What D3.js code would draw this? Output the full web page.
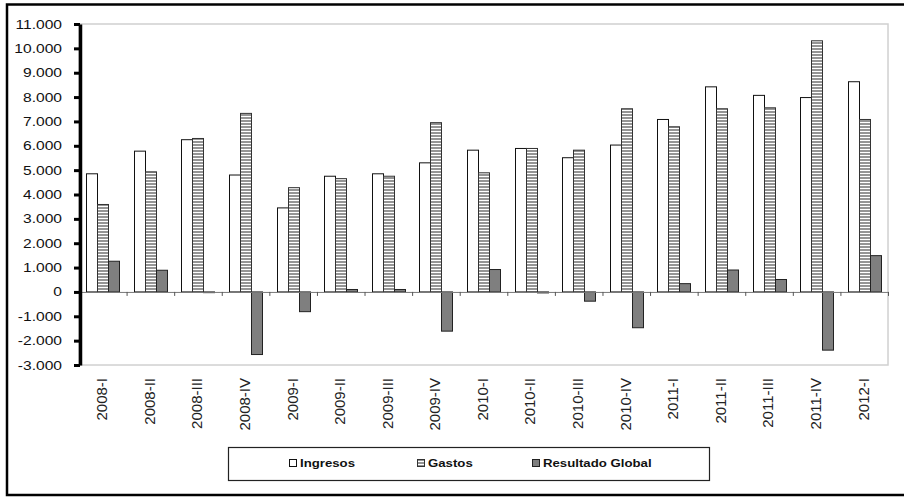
<!DOCTYPE html>
<html>
<head>
<meta charset="utf-8">
<script src="https://cdn.jsdelivr.net/npm/d3@7"></script>
<style>
  html, body { margin: 0; padding: 0; background: #fff; }
  svg { display: block; }
  text { font-family: "Liberation Sans", Arial, sans-serif; }
</style>
</head>
<body>
<svg id="chart" width="904" height="497"></svg>
<script>
const categories = ["2008-I","2008-II","2008-III","2008-IV","2009-I","2009-II","2009-III","2009-IV",
  "2010-I","2010-II","2010-III","2010-IV","2011-I","2011-II","2011-III","2011-IV","2012-I"];
const seriesNames = ["Ingresos","Gastos","Resultado Global"];
const ingresos  = [4850,5780,6250,4800,3450,4750,4850,5300,5820,5890,5510,6030,7080,8420,8070,7980,8630];
const gastos    = [3590,4930,6300,7330,4280,4650,4750,6950,4890,5890,5820,7520,6780,7520,7560,10310,7080];
const resultado = [1260,890,-30,-2570,-810,100,100,-1610,920,-40,-380,-1470,340,900,510,-2390,1490];
const yTicks = [-3000,-2000,-1000,0,1000,2000,3000,4000,5000,6000,7000,8000,9000,10000,11000];
const yTickLabels = ["-3.000","-2.000","-1.000","0","1.000","2.000","3.000","4.000","5.000","6.000","7.000","8.000","9.000","10.000","11.000"];

const svg = d3.select("#chart");
const L = 79, R = 888, T = 24, B = 365;

// pattern for Gastos
const defs = svg.append("defs");
const pat = defs.append("pattern").attr("id","stripes").attr("patternUnits","userSpaceOnUse")
  .attr("width",4).attr("height",3);
pat.append("rect").attr("width",4).attr("height",3).attr("fill","#ffffff");
pat.append("rect").attr("width",4).attr("height",2).attr("fill","#959595");

// outer frame
svg.append("rect").attr("x",7).attr("y",4.5).attr("width",1000).attr("height",490.5)
  .attr("fill","none").attr("stroke","#000").attr("stroke-width",2.5);

const x = d3.scaleBand().domain(categories).range([L, R]).padding(0);
const xi = d3.scaleBand().domain(seriesNames).range([0, x.bandwidth()]).paddingInner(0).paddingOuter(0.665);
const y = d3.scaleLinear().domain([-3000, 11000]).range([B, T]);

// plot area border
svg.append("rect").attr("x",L).attr("y",T).attr("width",R-L).attr("height",B-T)
  .attr("fill","none").attr("stroke","#d0d0d0").attr("stroke-width",1.5);

const data = categories.map((c,i)=>({cat:c, vals:[ingresos[i], gastos[i], resultado[i]]}));
const fills = ["#ffffff","url(#stripes)","#7f7f7f"];
const strokes = ["#111","#333","#222"];

const g = svg.append("g");
data.forEach(d => {
  d.vals.forEach((v,k) => {
    const s = seriesNames[k];
    const x0 = Math.round(x(d.cat) + xi(s)) + 0.5;
    const w = Math.round(xi.bandwidth());
    const y0 = y(Math.max(0,v)), y1 = y(Math.min(0,v));
    g.append("rect").attr("x",x0).attr("y",y0).attr("width",w).attr("height",Math.max(0.5,y1-y0))
      .attr("fill",fills[k]).attr("stroke",strokes[k]).attr("stroke-width",1);
  });
});

// zero axis with ticks
const xAxis = d3.axisBottom(x).tickSize(4).tickFormat("").tickSizeOuter(0);
const xg = svg.append("g").attr("transform",`translate(0,${y(0)})`);
xg.call(d3.axisBottom(d3.scaleLinear().domain([0,categories.length]).range([L,R]))
  .ticks(categories.length).tickValues(d3.range(categories.length+1)).tickSize(4).tickFormat("").tickSizeOuter(0));
xg.select(".domain").attr("stroke","#777").attr("stroke-width",1);
xg.selectAll(".tick line").attr("stroke","#555");

// x labels
svg.append("g").selectAll("text").data(categories).join("text")
  .attr("transform", d => `translate(${x(d)+x.bandwidth()/2 - 1},378) rotate(-90)`)
  .attr("text-anchor","end").attr("dy","0.36em")
  .attr("font-size",15).attr("fill","#222").text(d=>d);

// y axis
const yg = svg.append("g").attr("transform",`translate(${L+1},0)`);
yg.call(d3.axisLeft(y).tickValues(yTicks).tickSize(6).tickSizeOuter(0).tickFormat(""));
yg.select(".domain").attr("stroke","#000").attr("stroke-width",3.5);
yg.selectAll(".tick line").attr("stroke","#000").attr("stroke-width",3);

svg.append("g").selectAll("text").data(yTicks).join("text")
  .attr("transform",(d)=>`translate(62,${y(d)}) scale(1.25,1)`)
  .attr("text-anchor","end").attr("dy","0.36em").attr("font-size",12.5).attr("fill","#111")
  .text((d,i)=>yTickLabels[i]);

// legend
const lg = svg.append("g");
lg.append("rect").attr("x",228.5).attr("y",447.5).attr("width",481).attr("height",33)
  .attr("fill","#fff").attr("stroke","#222").attr("stroke-width",1.2);
const legX = [289, 417, 532];
seriesNames.forEach((s,k)=>{
  lg.append("rect").attr("x",legX[k]+0.5).attr("y",459.5).attr("width",7).attr("height",7)
    .attr("fill",fills[k]).attr("stroke",strokes[k]).attr("stroke-width",1);
  lg.append("text").attr("transform",`translate(${legX[k]+11},463) scale(1.18,1)`)
    .attr("dy","0.36em").attr("font-size",11.2).attr("font-weight","bold").attr("fill","#111").text(s);
});
</script>
</body>
</html>
